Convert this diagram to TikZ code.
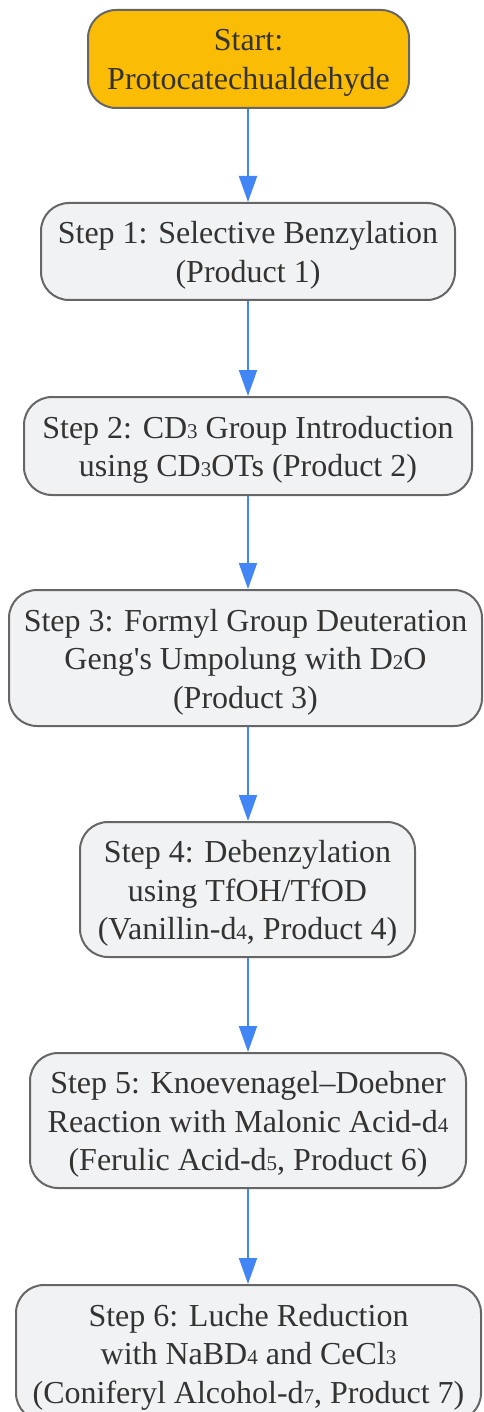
\documentclass[tikz,border=0pt]{standalone}
\usepackage{fontspec}
\setmainfont{Liberation Serif}[Ligatures=TeXOff]
\usetikzlibrary{arrows.meta}
\definecolor{startfill}{HTML}{FBBC05}
\definecolor{boxfill}{HTML}{F1F2F4}
\definecolor{boxline}{HTML}{666666}
\definecolor{txt}{HTML}{333333}
\definecolor{arrowblue}{HTML}{4285F4}
\newcommand{\subd}[1]{{\fontsize{21}{21}\selectfont #1}}
\begin{document}
\begin{tikzpicture}[x=1pt,y=-1pt,
  stepbox/.style={draw=boxline, line width=2pt, fill=boxfill, rounded corners=28pt, inner sep=0pt},
  startbox/.style={stepbox, fill=startfill},
  label/.style={text=txt, align=center, inner sep=0pt, yshift=-4pt,
    font=\fontsize{32}{38.4}\selectfont},
  flow/.style={draw=arrowblue, line width=2pt, -{Triangle[length=26pt,width=18pt]}}]
\useasboundingbox (0,0) rectangle (483,1412);
\node[startbox, minimum width=321pt, minimum height=98pt] (s0) at (248.5,59) {};
\node[stepbox, minimum width=414pt, minimum height=97pt] (s1) at (248,251.5) {};
\node[stepbox, minimum width=448pt, minimum height=98pt] (s2) at (248,446) {};
\node[stepbox, minimum width=473pt, minimum height=136pt] (s3) at (245.5,658) {};
\node[stepbox, minimum width=335pt, minimum height=135pt] (s4) at (247.5,889.5) {};
\node[stepbox, minimum width=436pt, minimum height=135pt] (s5) at (248,1120.5) {};
\node[stepbox, minimum width=465pt, minimum height=136pt] (s6) at (248.5,1353) {};
\node[label] (t0) at (s0.center) {Start:\\Protocatechualdehyde};
\node[label] (t1) at (s1.center) {Step 1: Selective Benzylation\\(Product 1)};
\node[label] (t2) at (s2.center) {Step 2: CD\subd{3} Group Introduction\\using CD\subd{3}OTs (Product 2)};
\node[label] (t3) at (s3.center) {Step 3: Formyl Group Deuteration\\Geng's Umpolung with D\subd{2}O\\(Product 3)};
\node[label] (t4) at (s4.center) {Step 4: Debenzylation\\using TfOH/TfOD\\(Vanillin-d\subd{4}, Product 4)};
\node[label] (t5) at (s5.center) {Step 5: Knoevenagel–Doebner\\Reaction with Malonic Acid-d\subd{4}\\(Ferulic Acid-d\subd{5}, Product 6)};
\node[label] (t6) at (s6.center) {Step 6: Luche Reduction\\with NaBD\subd{4} and CeCl\subd{3}\\(Coniferyl Alcohol-d\subd{7}, Product 7)};
\draw[flow] (s0.south -| 248,0) -- (s1.north -| 248,0);
\draw[flow] (s1.south -| 248,0) -- (s2.north -| 248,0);
\draw[flow] (s2.south -| 248,0) -- (s3.north -| 248,0);
\draw[flow] (s3.south -| 248,0) -- (s4.north -| 248,0);
\draw[flow] (s4.south -| 248,0) -- (s5.north -| 248,0);
\draw[flow] (s5.south -| 248,0) -- (s6.north -| 248,0);
\end{tikzpicture}
\end{document}
